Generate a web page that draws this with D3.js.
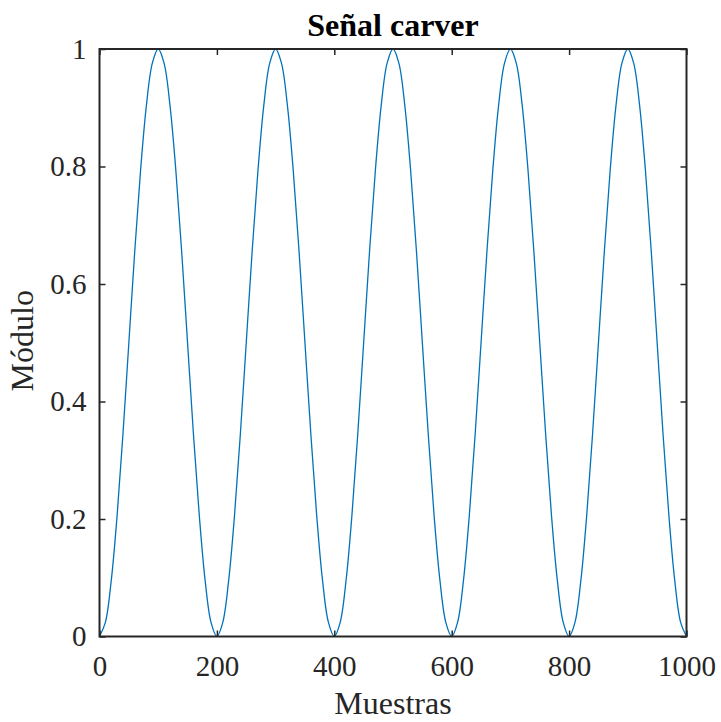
<!DOCTYPE html>
<html><head><meta charset="utf-8">
<script src="https://cdn.jsdelivr.net/npm/d3@7"></script>
<style>body{margin:0;background:#fff}svg{display:block}</style>
</head><body>
<script>
const sampleIndex = d3.range(0, 1001, 10);
const moduleValues = [
0,0.024,0.095,0.206,0.345,0.5,0.655,0.794,0.905,0.976,1,0.976,0.905,0.794,0.655,0.5,0.345,0.206,0.095,0.024,
0,0.024,0.095,0.206,0.345,0.5,0.655,0.794,0.905,0.976,1,0.976,0.905,0.794,0.655,0.5,0.345,0.206,0.095,0.024,
0,0.024,0.095,0.206,0.345,0.5,0.655,0.794,0.905,0.976,1,0.976,0.905,0.794,0.655,0.5,0.345,0.206,0.095,0.024,
0,0.024,0.095,0.206,0.345,0.5,0.655,0.794,0.905,0.976,1,0.976,0.905,0.794,0.655,0.5,0.345,0.206,0.095,0.024,
0,0.024,0.095,0.206,0.345,0.5,0.655,0.794,0.905,0.976,1,0.976,0.905,0.794,0.655,0.5,0.345,0.206,0.095,0.024,
0];
const xTicks = [0,200,400,600,800,1000];
const yTicks = [0,0.2,0.4,0.6,0.8,1];
const yTickLabels = ["0","0.2","0.4","0.6","0.8","1"];
const title = "Señal carver", xLabel = "Muestras", yLabel = "Módulo";

const W=721,H=722, L=99.5,R=686.5,T=49,B=636.5;
const svg=d3.select("body").append("svg").attr("width",W).attr("height",H);
const x=d3.scaleLinear().domain([0,1000]).range([L,R]);
const y=d3.scaleLinear().domain([0,1]).range([B,T]);
const col="#262626", font="'Liberation Serif','Times New Roman',serif";

const data = sampleIndex.map((n,i)=>({n, v:moduleValues[i]}));
svg.append("path").datum(data)
 .attr("fill","none").attr("stroke","#0072BD").attr("stroke-width",1.3)
 .attr("d",d3.line().x(d=>x(d.n)).y(d=>y(d.v)).curve(d3.curveCatmullRom.alpha(0.5)));

function ax(g,axis){g.call(axis);g.select(".domain").remove();
 g.selectAll(".tick line").attr("stroke",col).attr("stroke-width",1.5);
 g.selectAll("text").attr("fill",col).style("font-family",font).style("font-size","29px");}
ax(svg.append("g").attr("transform",`translate(0,${B})`),d3.axisBottom(x).tickValues(xTicks).tickSize(-6).tickPadding(19).tickFormat(d3.format("d")));
ax(svg.append("g").attr("transform",`translate(0,${T})`),d3.axisTop(x).tickValues(xTicks).tickSize(-6).tickFormat(""));
ax(svg.append("g").attr("transform",`translate(${L},0)`),d3.axisLeft(y).tickValues(yTicks).tickSize(-6).tickPadding(13).tickFormat((d,i)=>yTickLabels[i]));
ax(svg.append("g").attr("transform",`translate(${R},0)`),d3.axisRight(y).tickValues(yTicks).tickSize(-6).tickFormat(""));
svg.append("rect").attr("x",L).attr("y",T).attr("width",R-L).attr("height",B-T)
 .attr("fill","none").attr("stroke",col).attr("stroke-width",2);

svg.append("text").attr("x",(L+R)/2).attr("y",36).attr("text-anchor","middle")
 .attr("fill","#000").style("font-family",font).style("font-size","32px").style("font-weight","bold").text(title);
svg.append("text").attr("x",(L+R)/2).attr("y",714).attr("text-anchor","middle")
 .attr("fill",col).style("font-family",font).style("font-size","32px").text(xLabel);
svg.append("text").attr("transform",`translate(33,${(T+B)/2 - 2}) rotate(-90)`).attr("text-anchor","middle")
 .attr("fill",col).style("font-family",font).style("font-size","32px").text(yLabel);
</script>
</body></html>
